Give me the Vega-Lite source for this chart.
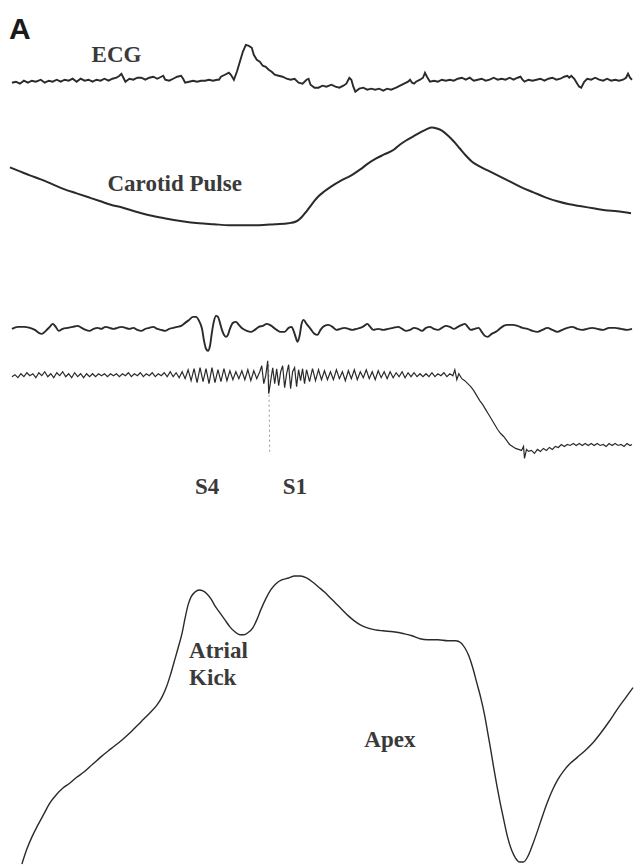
{
 "$schema": "https://vega.github.io/schema/vega-lite/v6.json",
 "width": 636, "height": 867,
 "autosize": {"type": "fit", "contains": "padding"},
 "padding": 0,
 "background": "white",
 "config": {"view": {"stroke": null}},
 "datasets": {
  "ecg": [{"x":12,"y":83},{"x":16,"y":82},{"x":20,"y":84},{"x":24,"y":81},{"x":28,"y":83},{"x":32,"y":81},{"x":36,"y":82},{"x":41,"y":80},{"x":45,"y":83},{"x":49,"y":81},{"x":53,"y":82},{"x":57,"y":80},{"x":61,"y":82},{"x":65,"y":80},{"x":69,"y":81},{"x":73,"y":79},{"x":77,"y":82},{"x":81,"y":79},{"x":85,"y":81},{"x":89,"y":80},{"x":93,"y":82},{"x":97,"y":80},{"x":101,"y":81},{"x":105,"y":79},{"x":109,"y":81},{"x":113,"y":79},{"x":117,"y":78},{"x":120,"y":76},{"x":122,"y":74},{"x":124,"y":78},{"x":126,"y":82},{"x":130,"y":79},{"x":134,"y":80},{"x":138,"y":78},{"x":142,"y":78},{"x":146,"y":80},{"x":150,"y":78},{"x":154,"y":77},{"x":158,"y":79},{"x":162,"y":77},{"x":164,"y":76},{"x":166,"y":80},{"x":170,"y":81},{"x":174,"y":79},{"x":178,"y":77},{"x":182,"y":76},{"x":184,"y":79},{"x":186,"y":83},{"x":190,"y":82},{"x":194,"y":81},{"x":198,"y":82},{"x":202,"y":81},{"x":206,"y":81},{"x":210,"y":80},{"x":214,"y":81},{"x":218,"y":80},{"x":220,"y":80},{"x":222,"y":77},{"x":226,"y":75},{"x":230,"y":73},{"x":232,"y":75},{"x":235,"y":80},{"x":238,"y":72},{"x":241,"y":62},{"x":244,"y":52},{"x":247,"y":45},{"x":250,"y":46},{"x":253,"y":48},{"x":255,"y":55},{"x":258,"y":60},{"x":261,"y":62},{"x":264,"y":66},{"x":267,"y":67},{"x":270,"y":70},{"x":273,"y":72},{"x":276,"y":75},{"x":280,"y":76},{"x":284,"y":77},{"x":288,"y":79},{"x":292,"y":80},{"x":296,"y":79},{"x":300,"y":83},{"x":304,"y":84},{"x":308,"y":80},{"x":310,"y":79},{"x":312,"y":85},{"x":316,"y":88},{"x":320,"y":88},{"x":324,"y":86},{"x":328,"y":87},{"x":333,"y":85},{"x":337,"y":87},{"x":341,"y":88},{"x":345,"y":86},{"x":348,"y":84},{"x":351,"y":78},{"x":353,"y":80},{"x":355,"y":87},{"x":357,"y":92},{"x":361,"y":89},{"x":365,"y":88},{"x":369,"y":90},{"x":373,"y":89},{"x":377,"y":90},{"x":381,"y":89},{"x":385,"y":91},{"x":389,"y":89},{"x":393,"y":90},{"x":398,"y":88},{"x":402,"y":86},{"x":406,"y":84},{"x":410,"y":82},{"x":412,"y":80},{"x":414,"y":83},{"x":416,"y":84},{"x":418,"y":82},{"x":422,"y":80},{"x":425,"y":78},{"x":427,"y":73},{"x":429,"y":77},{"x":432,"y":82},{"x":436,"y":81},{"x":440,"y":82},{"x":444,"y":80},{"x":448,"y":81},{"x":452,"y":80},{"x":456,"y":81},{"x":460,"y":79},{"x":464,"y":78},{"x":468,"y":80},{"x":472,"y":78},{"x":476,"y":81},{"x":480,"y":80},{"x":484,"y":79},{"x":488,"y":81},{"x":492,"y":80},{"x":496,"y":78},{"x":500,"y":80},{"x":504,"y":79},{"x":508,"y":80},{"x":512,"y":78},{"x":516,"y":80},{"x":520,"y":78},{"x":523,"y":77},{"x":525,"y":80},{"x":527,"y":82},{"x":531,"y":80},{"x":535,"y":81},{"x":539,"y":80},{"x":543,"y":79},{"x":547,"y":81},{"x":551,"y":79},{"x":555,"y":78},{"x":559,"y":80},{"x":563,"y":79},{"x":567,"y":77},{"x":570,"y":76},{"x":572,"y":78},{"x":574,"y":76},{"x":577,"y":79},{"x":580,"y":84},{"x":582,"y":87},{"x":584,"y":88},{"x":587,"y":82},{"x":590,"y":79},{"x":594,"y":80},{"x":598,"y":78},{"x":602,"y":80},{"x":606,"y":81},{"x":610,"y":79},{"x":614,"y":81},{"x":618,"y":80},{"x":622,"y":81},{"x":626,"y":80},{"x":629,"y":78},{"x":631,"y":74},{"x":633,"y":78},{"x":635,"y":80}],
  "carotid": [{"x":10,"y":168},{"x":20,"y":172},{"x":30,"y":176},{"x":41,"y":180},{"x":53,"y":185},{"x":65,"y":190},{"x":77,"y":194},{"x":89,"y":198},{"x":101,"y":202},{"x":113,"y":206},{"x":122,"y":208},{"x":135,"y":212},{"x":150,"y":216},{"x":165,"y":219},{"x":183,"y":222},{"x":200,"y":224},{"x":215,"y":225},{"x":230,"y":226},{"x":245,"y":226},{"x":260,"y":226},{"x":276,"y":225},{"x":290,"y":224},{"x":298,"y":222},{"x":303,"y":218},{"x":308,"y":212},{"x":314,"y":204},{"x":320,"y":197},{"x":326,"y":192},{"x":333,"y":187},{"x":343,"y":181},{"x":353,"y":176},{"x":362,"y":170},{"x":370,"y":164},{"x":378,"y":159},{"x":386,"y":155},{"x":396,"y":150},{"x":402,"y":145},{"x":408,"y":141},{"x":415,"y":137},{"x":422,"y":133},{"x":428,"y":130},{"x":434,"y":128},{"x":439,"y":129},{"x":444,"y":131},{"x":450,"y":136},{"x":456,"y":142},{"x":462,"y":149},{"x":468,"y":156},{"x":474,"y":162},{"x":480,"y":166},{"x":490,"y":171},{"x":500,"y":176},{"x":512,"y":182},{"x":524,"y":188},{"x":536,"y":193},{"x":548,"y":198},{"x":560,"y":202},{"x":572,"y":205},{"x":584,"y":207},{"x":596,"y":209},{"x":608,"y":211},{"x":620,"y":212},{"x":634,"y":214}],
  "pcg1": [{"x":12,"y":330},{"x":18,"y":328},{"x":24,"y":328},{"x":30,"y":329},{"x":35,"y":331},{"x":39,"y":334},{"x":42,"y":335},{"x":46,"y":332},{"x":50,"y":328},{"x":53,"y":325},{"x":56,"y":328},{"x":59,"y":332},{"x":63,"y":330},{"x":68,"y":329},{"x":73,"y":328},{"x":78,"y":327},{"x":82,"y":329},{"x":86,"y":331},{"x":90,"y":332},{"x":94,"y":330},{"x":98,"y":329},{"x":102,"y":330},{"x":106,"y":328},{"x":110,"y":329},{"x":114,"y":330},{"x":118,"y":329},{"x":122,"y":328},{"x":126,"y":329},{"x":130,"y":330},{"x":134,"y":329},{"x":138,"y":331},{"x":142,"y":332},{"x":146,"y":330},{"x":150,"y":329},{"x":154,"y":328},{"x":158,"y":330},{"x":162,"y":331},{"x":166,"y":332},{"x":170,"y":330},{"x":174,"y":329},{"x":178,"y":328},{"x":182,"y":327},{"x":186,"y":324},{"x":190,"y":321},{"x":194,"y":318},{"x":197,"y":318},{"x":200,"y":322},{"x":203,"y":330},{"x":205,"y":342},{"x":207,"y":350},{"x":209,"y":352},{"x":211,"y":347},{"x":213,"y":333},{"x":215,"y":322},{"x":217,"y":317},{"x":219,"y":318},{"x":221,"y":324},{"x":223,"y":331},{"x":225,"y":336},{"x":227,"y":338},{"x":229,"y":336},{"x":231,"y":330},{"x":234,"y":324},{"x":237,"y":323},{"x":240,"y":326},{"x":244,"y":330},{"x":248,"y":332},{"x":252,"y":333},{"x":256,"y":331},{"x":260,"y":328},{"x":264,"y":327},{"x":268,"y":325},{"x":271,"y":326},{"x":274,"y":328},{"x":278,"y":331},{"x":282,"y":333},{"x":286,"y":333},{"x":290,"y":329},{"x":293,"y":328},{"x":295,"y":332},{"x":297,"y":338},{"x":299,"y":343},{"x":301,"y":337},{"x":303,"y":325},{"x":305,"y":321},{"x":308,"y":325},{"x":312,"y":330},{"x":316,"y":335},{"x":319,"y":336},{"x":322,"y":331},{"x":326,"y":327},{"x":330,"y":326},{"x":334,"y":328},{"x":338,"y":331},{"x":342,"y":330},{"x":346,"y":329},{"x":350,"y":330},{"x":354,"y":331},{"x":358,"y":330},{"x":362,"y":329},{"x":366,"y":327},{"x":369,"y":325},{"x":372,"y":328},{"x":375,"y":331},{"x":380,"y":330},{"x":385,"y":331},{"x":390,"y":330},{"x":395,"y":329},{"x":400,"y":328},{"x":404,"y":330},{"x":408,"y":332},{"x":412,"y":331},{"x":416,"y":329},{"x":420,"y":330},{"x":424,"y":332},{"x":428,"y":329},{"x":432,"y":328},{"x":436,"y":330},{"x":440,"y":331},{"x":444,"y":329},{"x":448,"y":327},{"x":452,"y":328},{"x":456,"y":330},{"x":460,"y":328},{"x":464,"y":326},{"x":467,"y":325},{"x":470,"y":328},{"x":473,"y":331},{"x":477,"y":330},{"x":481,"y":329},{"x":484,"y":333},{"x":487,"y":337},{"x":490,"y":338},{"x":494,"y":335},{"x":498,"y":333},{"x":502,"y":330},{"x":506,"y":327},{"x":510,"y":326},{"x":515,"y":326},{"x":520,"y":327},{"x":525,"y":329},{"x":530,"y":330},{"x":535,"y":332},{"x":540,"y":333},{"x":545,"y":331},{"x":550,"y":329},{"x":555,"y":331},{"x":560,"y":333},{"x":565,"y":331},{"x":570,"y":329},{"x":575,"y":328},{"x":580,"y":330},{"x":585,"y":331},{"x":590,"y":330},{"x":595,"y":329},{"x":600,"y":330},{"x":606,"y":331},{"x":612,"y":329},{"x":618,"y":329},{"x":624,"y":330},{"x":630,"y":331},{"x":635,"y":330}],
  "pcg2": [{"x":12,"y":378},{"x":15,"y":376},{"x":18,"y":379},{"x":21,"y":375},{"x":24,"y":378},{"x":27,"y":374},{"x":30,"y":377},{"x":33,"y":375},{"x":36,"y":379},{"x":39,"y":374},{"x":42,"y":377},{"x":45,"y":373},{"x":48,"y":378},{"x":51,"y":375},{"x":54,"y":379},{"x":57,"y":374},{"x":60,"y":377},{"x":63,"y":373},{"x":66,"y":378},{"x":69,"y":375},{"x":72,"y":379},{"x":75,"y":374},{"x":78,"y":378},{"x":81,"y":375},{"x":84,"y":379},{"x":87,"y":375},{"x":90,"y":378},{"x":93,"y":375},{"x":96,"y":378},{"x":99,"y":375},{"x":102,"y":377},{"x":105,"y":375},{"x":108,"y":378},{"x":111,"y":375},{"x":114,"y":377},{"x":117,"y":375},{"x":120,"y":378},{"x":123,"y":375},{"x":126,"y":377},{"x":129,"y":374},{"x":132,"y":378},{"x":135,"y":375},{"x":138,"y":377},{"x":141,"y":374},{"x":144,"y":378},{"x":147,"y":375},{"x":150,"y":377},{"x":153,"y":374},{"x":156,"y":378},{"x":159,"y":375},{"x":162,"y":377},{"x":165,"y":374},{"x":168,"y":378},{"x":171,"y":373},{"x":174,"y":378},{"x":177,"y":374},{"x":180,"y":379},{"x":183,"y":373},{"x":186,"y":380},{"x":189,"y":371},{"x":192,"y":382},{"x":195,"y":370},{"x":198,"y":384},{"x":201,"y":369},{"x":204,"y":383},{"x":207,"y":370},{"x":210,"y":385},{"x":213,"y":369},{"x":216,"y":384},{"x":219,"y":371},{"x":222,"y":383},{"x":225,"y":370},{"x":228,"y":382},{"x":231,"y":372},{"x":234,"y":381},{"x":237,"y":373},{"x":240,"y":380},{"x":243,"y":372},{"x":246,"y":381},{"x":249,"y":371},{"x":252,"y":382},{"x":255,"y":372},{"x":258,"y":380},{"x":261,"y":373},{"x":263,"y":367},{"x":265,"y":385},{"x":267,"y":377},{"x":269,"y":362},{"x":270,"y":395},{"x":272,"y":382},{"x":274,"y":369},{"x":276,"y":385},{"x":278,"y":370},{"x":280,"y":387},{"x":282,"y":373},{"x":284,"y":367},{"x":286,"y":389},{"x":288,"y":375},{"x":290,"y":366},{"x":292,"y":390},{"x":294,"y":373},{"x":296,"y":369},{"x":298,"y":388},{"x":300,"y":371},{"x":302,"y":382},{"x":304,"y":370},{"x":306,"y":385},{"x":308,"y":371},{"x":311,"y":383},{"x":314,"y":370},{"x":317,"y":382},{"x":320,"y":371},{"x":323,"y":381},{"x":326,"y":372},{"x":329,"y":381},{"x":332,"y":373},{"x":335,"y":381},{"x":338,"y":371},{"x":341,"y":380},{"x":344,"y":373},{"x":347,"y":382},{"x":350,"y":372},{"x":353,"y":380},{"x":356,"y":371},{"x":359,"y":381},{"x":362,"y":373},{"x":365,"y":379},{"x":368,"y":371},{"x":371,"y":380},{"x":374,"y":373},{"x":377,"y":381},{"x":380,"y":372},{"x":383,"y":379},{"x":386,"y":373},{"x":389,"y":380},{"x":392,"y":373},{"x":395,"y":379},{"x":398,"y":374},{"x":401,"y":378},{"x":404,"y":373},{"x":407,"y":379},{"x":410,"y":374},{"x":413,"y":378},{"x":416,"y":374},{"x":419,"y":378},{"x":422,"y":375},{"x":425,"y":378},{"x":428,"y":375},{"x":431,"y":378},{"x":434,"y":374},{"x":437,"y":378},{"x":440,"y":375},{"x":443,"y":377},{"x":446,"y":374},{"x":449,"y":378},{"x":452,"y":375},{"x":455,"y":377},{"x":457,"y":371},{"x":459,"y":381},{"x":461,"y":375},{"x":464,"y":380},{"x":467,"y":382},{"x":470,"y":385},{"x":473,"y":388},{"x":476,"y":392},{"x":479,"y":397},{"x":482,"y":402},{"x":485,"y":406},{"x":488,"y":411},{"x":491,"y":416},{"x":494,"y":421},{"x":497,"y":426},{"x":500,"y":431},{"x":503,"y":435},{"x":506,"y":438},{"x":509,"y":442},{"x":512,"y":446},{"x":515,"y":448},{"x":518,"y":450},{"x":521,"y":451},{"x":524,"y":452},{"x":526,"y":448},{"x":527,"y":460},{"x":529,"y":451},{"x":531,"y":453},{"x":534,"y":452},{"x":537,"y":455},{"x":540,"y":451},{"x":543,"y":453},{"x":546,"y":450},{"x":549,"y":452},{"x":552,"y":449},{"x":555,"y":451},{"x":558,"y":448},{"x":561,"y":449},{"x":564,"y":446},{"x":567,"y":448},{"x":570,"y":446},{"x":573,"y":447},{"x":576,"y":445},{"x":579,"y":447},{"x":582,"y":445},{"x":585,"y":447},{"x":588,"y":445},{"x":591,"y":447},{"x":594,"y":445},{"x":597,"y":447},{"x":600,"y":445},{"x":603,"y":447},{"x":606,"y":446},{"x":609,"y":448},{"x":612,"y":445},{"x":615,"y":447},{"x":618,"y":445},{"x":621,"y":447},{"x":624,"y":446},{"x":627,"y":448},{"x":630,"y":445},{"x":633,"y":447},{"x":635,"y":446}],
  "spike": [{"x":270,"y":366},{"x":271,"y":456}],
  "apex": [{"x":22,"y":867},{"x":27,"y":852},{"x":32,"y":840},{"x":38,"y":828},{"x":44,"y":817},{"x":50,"y":806},{"x":57,"y":797},{"x":63,"y":791},{"x":70,"y":786},{"x":77,"y":780},{"x":84,"y":775},{"x":93,"y":767},{"x":102,"y":759},{"x":112,"y":751},{"x":122,"y":743},{"x":132,"y":734},{"x":142,"y":724},{"x":150,"y":716},{"x":158,"y":707},{"x":163,"y":699},{"x":167,"y":690},{"x":171,"y":678},{"x":175,"y":664},{"x":179,"y":650},{"x":183,"y":635},{"x":186,"y":620},{"x":189,"y":607},{"x":192,"y":599},{"x":196,"y":594},{"x":200,"y":592},{"x":204,"y":593},{"x":208,"y":596},{"x":212,"y":601},{"x":216,"y":608},{"x":221,"y":615},{"x":226,"y":622},{"x":231,"y":629},{"x":236,"y":634},{"x":241,"y":637},{"x":245,"y":637},{"x":249,"y":635},{"x":254,"y":630},{"x":258,"y":622},{"x":262,"y":612},{"x":267,"y":601},{"x":272,"y":592},{"x":277,"y":586},{"x":283,"y":582},{"x":290,"y":580},{"x":296,"y":578},{"x":302,"y":578},{"x":308,"y":580},{"x":314,"y":584},{"x":320,"y":589},{"x":326,"y":594},{"x":332,"y":600},{"x":338,"y":606},{"x":344,"y":612},{"x":350,"y":618},{"x":356,"y":623},{"x":362,"y":627},{"x":369,"y":630},{"x":377,"y":632},{"x":385,"y":633},{"x":395,"y":634},{"x":406,"y":636},{"x":414,"y":638},{"x":422,"y":641},{"x":430,"y":642},{"x":440,"y":642},{"x":450,"y":643},{"x":458,"y":643},{"x":463,"y":645},{"x":467,"y":650},{"x":471,"y":658},{"x":475,"y":670},{"x":479,"y":685},{"x":483,"y":700},{"x":487,"y":718},{"x":490,"y":735},{"x":493,"y":752},{"x":496,"y":770},{"x":499,"y":787},{"x":502,"y":803},{"x":506,"y":822},{"x":510,"y":840},{"x":514,"y":853},{"x":518,"y":861},{"x":522,"y":865},{"x":526,"y":865},{"x":530,"y":860},{"x":535,"y":848},{"x":540,"y":834},{"x":545,"y":819},{"x":550,"y":805},{"x":555,"y":793},{"x":560,"y":783},{"x":566,"y":774},{"x":572,"y":767},{"x":580,"y":760},{"x":588,"y":753},{"x":596,"y":745},{"x":604,"y":735},{"x":612,"y":724},{"x":620,"y":712},{"x":628,"y":701},{"x":636,"y":690}],
  "labels": [{"x":92,"y":62,"label":"ECG"},{"x":108,"y":192,"label":"Carotid Pulse"},{"x":196,"y":496,"label":"S4"},{"x":284,"y":496,"label":"S1"},{"x":190,"y":660,"label":"Atrial"},{"x":190,"y":687,"label":"Kick"},{"x":366,"y":750,"label":"Apex"}],
  "panel": [{"x":9,"y":39,"label":"A"}]
 },
 "encoding": {
  "x": {"field": "x", "type": "quantitative", "scale": {"domain": [0, 636], "nice": false, "zero": false}, "axis": null},
  "y": {"field": "y", "type": "quantitative", "scale": {"domain": [0, 867], "nice": false, "zero": false, "reverse": true}, "axis": null}
 },
 "layer": [
  {"data": {"name": "ecg"}, "mark": {"type": "line", "color": "#2a2a2a", "strokeWidth": 1.9}},
  {"data": {"name": "carotid"}, "mark": {"type": "line", "color": "#2a2a2a", "strokeWidth": 2, "interpolate": "monotone"}},
  {"data": {"name": "pcg1"}, "mark": {"type": "line", "color": "#2a2a2a", "strokeWidth": 1.9, "interpolate": "monotone"}},
  {"data": {"name": "spike"}, "mark": {"type": "line", "color": "#9a9a9a", "strokeWidth": 1, "strokeDash": [2, 3]}},
  {"data": {"name": "pcg2"}, "mark": {"type": "line", "color": "#2a2a2a", "strokeWidth": 1.2}},
  {"data": {"name": "apex"}, "mark": {"type": "line", "color": "#2a2a2a", "strokeWidth": 1.4, "interpolate": "monotone"}},
  {"data": {"name": "labels"}, "mark": {"type": "text", "font": "Liberation Serif", "fontWeight": "bold", "fontSize": 23, "align": "left", "baseline": "alphabetic", "color": "#3a3a3a"}, "encoding": {"text": {"field": "label", "type": "nominal"}}},
  {"data": {"name": "panel"}, "mark": {"type": "text", "font": "Liberation Sans", "fontWeight": "bold", "fontSize": 30, "align": "left", "baseline": "alphabetic", "color": "#1a1a1a"}, "encoding": {"text": {"field": "label", "type": "nominal"}}}
 ]
}
